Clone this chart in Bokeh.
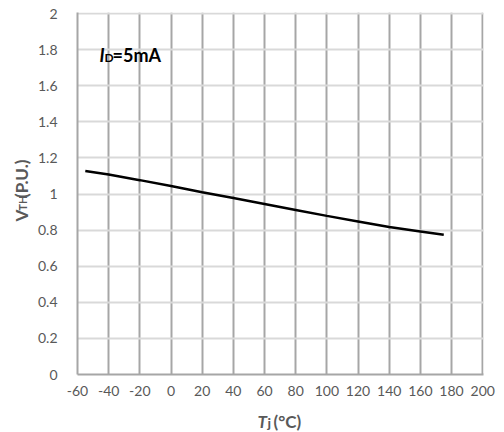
import math
from bokeh.plotting import figure
from bokeh.models import Label, Range1d, FixedTicker
from bokeh.layouts import row, column
from bokeh.core.properties import value
from bokeh.embed import file_html
from bokeh.resources import INLINE

# Data
tj = [-55, -40, -20, 0, 20, 40, 60, 80, 100, 120, 140, 160, 175]
vth = [1.128, 1.108, 1.077, 1.044, 1.010, 0.978, 0.945, 0.912, 0.879, 0.848, 0.817, 0.793, 0.775]
x_ticks = list(range(-60, 201, 20))
x_tick_labels = [str(t) for t in x_ticks]
y_ticks = [0, 0.2, 0.4, 0.6, 0.8, 1.0, 1.2, 1.4, 1.6, 1.8, 2.0]
y_tick_labels = ["0", "0.2", "0.4", "0.6", "0.8", "1", "1.2", "1.4", "1.6", "1.8", "2"]

FONT = "Lato"
GRAY = "#595959"

LEFT_W = 34
MAIN_H = 400

p = figure(width=504 - LEFT_W, height=MAIN_H, output_backend="svg", toolbar_location=None,
           x_range=Range1d(-60, 200.5), y_range=Range1d(0, 2.006),
           min_border_left=77 - LEFT_W, min_border_right=21, min_border_top=12,
           min_border_bottom=MAIN_H - 374)
p.outline_line_color = None
p.background_fill_color = "white"
p.border_fill_color = "white"

p.xaxis.ticker = FixedTicker(ticks=x_ticks)
p.yaxis.ticker = FixedTicker(ticks=y_ticks)
p.xaxis.major_label_overrides = {t: s for t, s in zip(x_ticks, x_tick_labels)}
p.yaxis.major_label_overrides = {t: s for t, s in zip(y_ticks, y_tick_labels)}
for ax in (p.xaxis, p.yaxis):
    ax.major_tick_line_color = None
    ax.minor_tick_line_color = None
    ax.axis_line_color = "#a6a6a6"
    ax.axis_line_width = 2
    ax.major_label_text_font = FONT
    ax.major_label_text_font_size = "14px"
    ax.major_label_text_color = GRAY
p.xaxis.major_label_standoff = 5
p.yaxis.major_label_standoff = 14

p.xgrid.ticker = FixedTicker(ticks=x_ticks)
p.ygrid.ticker = FixedTicker(ticks=y_ticks)
p.xgrid.grid_line_color = "#a6a6a6"
p.xgrid.grid_line_width = 2
p.ygrid.grid_line_color = "#d9d9d9"
p.ygrid.grid_line_width = 2

p.line(tj, vth, line_color="black", line_width=2.5)

# Annotation I_D=5mA (inside the frame), frame-relative screen units
FL, FB = 77, 374
def lab(text, px, py, size, color="black", style="bold"):
    p.add_layout(Label(x=px - FL, y=FB - py, x_units="screen", y_units="screen",
                       text=text, text_font=FONT,
                       text_font_size=size, text_font_style=style, text_color=color,
                       text_align="left", text_baseline="alphabetic"))

lab("I", 99, 54, "18px", style="bold italic")
lab("D", 104, 57, "12px")
lab("=5mA", 112, 54, "18px")


def text_fig(w, h):
    f = figure(width=w, height=h, output_backend="svg", toolbar_location=None,
               x_range=Range1d(0, w), y_range=Range1d(0, h),
               x_axis_location=None, y_axis_location=None, min_border=0)
    f.grid.visible = False
    f.outline_line_color = None
    f.background_fill_color = "white"
    f.border_fill_color = "white"
    return f

def put(f, h, text, px, py, size, style="bold", angle=0):
    f.text(x=[px], y=[h - py], text=[text], angle=angle,
           text_font=value(FONT), text_font_size=value(size),
           text_font_style=style, text_color=GRAY,
           text_align="left", text_baseline="alphabetic")

# Y axis label: V_TH(P.U.)
left = text_fig(LEFT_W, MAIN_H)
a = math.pi / 2
put(left, MAIN_H, "V", 21, 231, "17px", angle=a)
put(left, MAIN_H, "TH", 22, 219, "11px", angle=a)
put(left, MAIN_H, "(P.U.)", 21, 205, "17px", angle=a)

# X axis label: T_j(°C)
BOT_H = 432 - MAIN_H
bottom = text_fig(504, BOT_H)
put(bottom, BOT_H, "T", 257, 421 - MAIN_H, "17px", style="bold italic")
put(bottom, BOT_H, "j", 267, 422 - MAIN_H, "14px")
put(bottom, BOT_H, "(°C)", 273, 421 - MAIN_H, "17px")

layout = column(row(left, p, spacing=0), bottom, spacing=0)
open("out.html", "w").write(file_html(layout, INLINE))
